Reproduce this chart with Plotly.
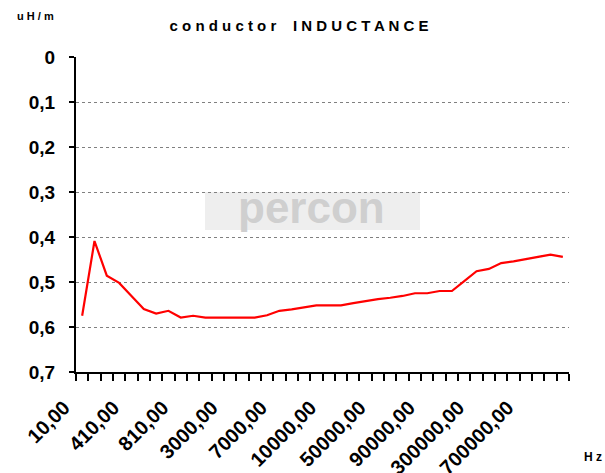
import plotly.graph_objects as go

# ---- data ----
frequencies = [
    "10,00", "110,00", "210,00", "310,00", "410,00", "510,00", "610,00", "710,00",
    "810,00", "910,00", "1000,00", "2000,00", "3000,00", "4000,00", "5000,00", "6000,00",
    "7000,00", "8000,00", "9000,00", "9500,00", "10000,00", "20000,00", "30000,00", "40000,00",
    "50000,00", "60000,00", "70000,00", "80000,00", "90000,00", "100000,00", "150000,00", "200000,00",
    "300000,00", "400000,00", "500000,00", "600000,00", "700000,00", "800000,00", "900000,00", "1000000,00",
]
inductance = [
    0.575, 0.409, 0.486, 0.502, 0.531, 0.560, 0.570, 0.564,
    0.579, 0.575, 0.579, 0.579, 0.579, 0.579, 0.579, 0.574,
    0.564, 0.561, 0.557, 0.552, 0.552, 0.552, 0.547, 0.542,
    0.538, 0.535, 0.531, 0.525, 0.525, 0.520, 0.520, 0.498,
    0.476, 0.471, 0.458, 0.454, 0.449, 0.444, 0.439, 0.444,
]
y_tick_values = [0, 0.1, 0.2, 0.3, 0.4, 0.5, 0.6, 0.7]
y_tick_labels = ["0", "0,1", "0,2", "0,3", "0,4", "0,5", "0,6", "0,7"]
label_step = 4
x_tick_labels = [f if i % label_step == 0 else "" for i, f in enumerate(frequencies)]

FONT = "Arial, Liberation Sans, sans-serif"
W, H = 605, 473
ML, MR, MT, MB = 76, 36, 57, 101
PW, PH = W - ML - MR, H - MT - MB


def px_x(x):
    return (x - ML) / PW


def px_y(y):
    return 1 - (y - MT) / PH


fig = go.Figure()
fig.add_trace(go.Scatter(
    x=frequencies, y=inductance, mode="lines",
    line=dict(color="#ff0000", width=2.2),
    showlegend=False, hoverinfo="skip",
))

# faint "percon" watermark banner
fig.add_shape(type="rect", xref="paper", yref="paper",
              x0=px_x(205), x1=px_x(420), y0=px_y(230), y1=px_y(192),
              fillcolor="#eeeeee", line=dict(width=0), layer="below")

fig.update_layout(
    width=W, height=H,
    margin=dict(l=ML, r=MR, t=MT, b=MB, autoexpand=False),
    paper_bgcolor="white", plot_bgcolor="rgba(0,0,0,0)",
    font=dict(family=FONT, color="black"),
    title=dict(
        text="c o n d u c t o r    I N D U C T A N C E",
        font=dict(family=FONT, size=15, color="black", weight="bold"),
        x=299 / W, xanchor="center", xref="container",
        y=1 - 26 / H, yanchor="middle",
    ),
    xaxis=dict(
        type="category", automargin=False,
        range=[-0.5, len(frequencies) - 0.5],
        tickmode="array", tickvals=frequencies, ticktext=x_tick_labels,
        tickson="boundaries",
        ticks="outside", ticklen=7, tickwidth=2, tickcolor="black",
        showline=True, linecolor="black", linewidth=2,
        showgrid=False, zeroline=False,
        tickangle=-45,
        ticklabelstandoff=14, ticklabelshift=-18,
        tickfont=dict(family=FONT, size=20, color="black", weight="bold"),
    ),
    yaxis=dict(
        automargin=False,
        range=[0.7, 0],
        tickmode="array", tickvals=y_tick_values, ticktext=y_tick_labels,
        ticks="outside", ticklen=5, tickwidth=2, tickcolor="black",
        showline=True, linecolor="black", linewidth=2,
        showgrid=True, gridcolor="#808080", gridwidth=1, griddash="dot",
        zeroline=False, ticklabelstandoff=10,
        tickfont=dict(family=FONT, size=19, color="black", weight="bold"),
    ),
    annotations=[
        dict(text="percon", xref="paper", yref="paper",
             x=px_x(311), y=px_y(207), xanchor="center", yanchor="middle",
             showarrow=False, font=dict(family=FONT, size=44, color="#cfcfcf", weight="bold")),
        dict(text="u H / m", xref="paper", yref="paper",
             x=px_x(15), y=px_y(16), xanchor="left", yanchor="middle",
             showarrow=False, font=dict(family=FONT, size=11, color="black", weight="bold")),
        dict(text="H z", xref="paper", yref="paper",
             x=px_x(582), y=px_y(457), xanchor="left", yanchor="middle",
             showarrow=False, font=dict(family=FONT, size=12, color="black", weight="bold")),
    ],
)

fig.write_html(
    "out.html",
    config={"displayModeBar": False, "staticPlot": True},
    post_script="document.body.style.margin='0';document.body.style.overflow='hidden';",
)
